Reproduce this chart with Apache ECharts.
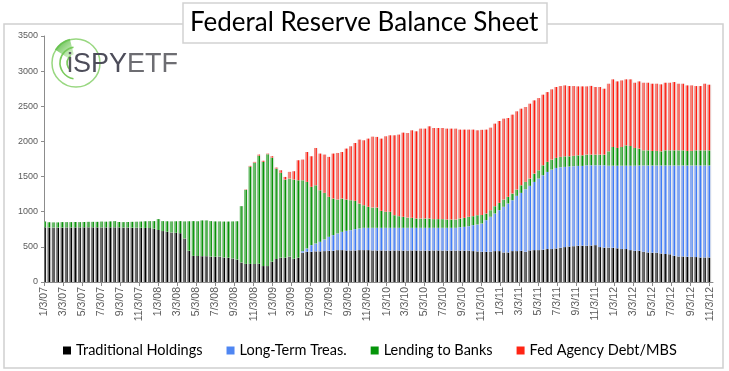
<!DOCTYPE html>
<html><head><meta charset="utf-8">
<script src="https://cdn.jsdelivr.net/npm/echarts@6/dist/echarts.min.js"></script>
<style>html,body{margin:0;padding:0;background:#fff;}#c{width:729px;height:371px;}</style>
</head><body><div id="c"></div>
<script>
// ---- data (billions of dollars), biweekly H.4.1 Wednesdays ----
const barDates = [
 '1/3/07','1/17/07','1/31/07','2/14/07','2/28/07','3/14/07','3/28/07','4/11/07','4/25/07','5/9/07','5/23/07','6/6/07','6/20/07','7/4/07','7/18/07','8/1/07','8/15/07','8/29/07','9/12/07','9/26/07','10/10/07','10/24/07','11/7/07','11/21/07','12/5/07','12/19/07',
 '1/2/08','1/16/08','1/30/08','2/13/08','2/27/08','3/12/08','3/26/08','4/9/08','4/23/08','5/7/08','5/21/08','6/4/08','6/18/08','7/2/08','7/16/08','7/30/08','8/13/08','8/27/08','9/10/08','9/24/08','10/8/08','10/22/08','11/5/08','11/19/08','12/3/08','12/17/08','12/31/08',
 '1/14/09','1/28/09','2/11/09','2/25/09','3/11/09','3/25/09','4/8/09','4/22/09','5/6/09','5/20/09','6/3/09','6/17/09','7/1/09','7/15/09','7/29/09','8/12/09','8/26/09','9/9/09','9/23/09','10/7/09','10/21/09','11/4/09','11/18/09','12/2/09','12/16/09','12/30/09',
 '1/13/10','1/27/10','2/10/10','2/24/10','3/10/10','3/24/10','4/7/10','4/21/10','5/5/10','5/19/10','6/2/10','6/16/10','6/30/10','7/14/10','7/28/10','8/11/10','8/25/10','9/8/10','9/22/10','10/6/10','10/20/10','11/3/10','11/17/10','12/1/10','12/15/10','12/29/10',
 '1/12/11','1/26/11','2/9/11','2/23/11','3/9/11','3/23/11','4/6/11','4/20/11','5/4/11','5/18/11','6/1/11','6/15/11','6/29/11','7/13/11','7/27/11','8/10/11','8/24/11','9/7/11','9/21/11','10/5/11','10/19/11','11/2/11','11/16/11','11/30/11','12/14/11','12/28/11',
 '1/11/12','1/25/12','2/8/12','2/22/12','3/7/12','3/21/12','4/4/12','4/18/12','5/2/12','5/16/12','5/30/12','6/13/12','6/27/12','7/11/12','7/25/12','8/8/12','8/22/12','9/5/12','9/19/12','10/3/12','10/17/12','10/31/12'
];
const tradHoldings = [
 778,776,776,775,776,777,777,778,778,779,779,779,778,778,778,779,779,778,776,776,774,773,772,770,768,760,
 740,725,715,705,700,695,620,445,372,370,368,368,362,360,362,350,346,336,320,
 278,258,258,256,260,227,
 227,289,327,346,346,360,331,346,
 416,430,430,437,437,440,445,445,454,454,450,450,450,454,454,454,450,
 450,450,448,448,450,450,448,448,450,450,448,448,448,450,450,448,448,448,448,448,448,448,440,436,430,
 430,430,440,440,421,421,440,440,445,430,450,454,454,460,469,469,478,487,497,506,510,516,518,516,520,
 525,497,490,490,487,480,469,469,454,445,
 445,430,421,418,416,407,398,395,374,364,364,360,357,355,350,350,350
];
const longTermTreas = [
 0,0,0,0,0,0,0,0,0,0, 0,0,0,0,0,0,0,0,0,0, 0,0,0,0,0,0,0,0,0,0,
 0,0,0,0,0,0,0,0,0,0, 0,0,0,0,0,0,0,0,0,0, 0,0,0,0,0,0,0,0,0,
 24,48,95,112,135,166,198,222,237,260,279,288,303,308,317,317,321,
 321,321,323,323,321,321,323,323,321,321,323,323,323,321,321,323,323,323,323,332,337,346,369,382,403,
 450,498,535,582,649,696,724,786,823,891,918,970,1018,1059,1097,1131,1145,1146,1141,1137,1138,1136,1134,1145,1141,
 1136,1164,1171,1165,1168,1175,1186,1186,1201,1210,
 1213,1228,1237,1240,1242,1251,1260,1263,1284,1294,1294,1298,1301,1303,1308,1308,1308
];
const lendingToBanks = [
 84,74,72,73,76,75,75,76,74,75,77,77,78,82,80,83,87,76,76,78,82,85,88,94,98,106,
 155,141,149,157,164,171,242,419,494,494,508,508,504,502,500,510,514,526,544,
 801,1053,1384,1441,1538,1483,
 1591,1481,1287,1207,1112,1112,1127,1102,
 1008,946,829,828,734,662,569,521,483,474,445,426,402,355,322,299,289,
 289,242,228,228,180,166,157,146,142,133,133,133,133,124,124,124,119,119,119,124,128,134,128,133,120,
 95,94,104,104,104,95,95,90,109,103,104,119,118,142,143,142,143,147,151,146,147,151,151,152,152,
 152,152,152,205,266,252,266,290,280,252,
 240,216,216,207,207,202,216,216,216,216,216,207,207,216,216,216,216
];
const agencyDebtMbs = [
 0,0,0,0,0,0,0,0,0,0, 0,0,0,0,0,0,0,0,0,0, 0,0,0,0,0,0,0,0,0,0,
 0,0,0,0,0,0,0,0,0,0, 0,0,0,0,0,
 0,5,10,12,15,15,
 9,19,14,37,37,95,118,284,
 294,426,435,530,521,545,568,639,662,662,724,767,823,909,923,970,1008,
 1004,1027,1074,1088,1136,1160,1197,1203,1245,1240,1278,1278,1311,1296,1296,1296,1292,1292,1292,1264,1255,1240,1231,1207,1212,
 1193,1174,1174,1165,1150,1121,1122,1112,1089,1066,1065,1041,1027,1004,993,999,1008,1008,1008,999,993,980,980,970,977,
 961,961,937,961,962,947,947,938,948,928,
 956,961,961,956,956,952,961,961,971,947,947,932,932,914,914,947,933
];
const tickLabels = [
 '1/3/07','3/3/07','5/3/07','7/3/07','9/3/07','11/3/07',
 '1/3/08','3/3/08','5/3/08','7/3/08','9/3/08','11/3/08',
 '1/3/09','3/3/09','5/3/09','7/3/09','9/3/09','11/3/09',
 '1/3/10','3/3/10','5/3/10','7/3/10','9/3/10','11/3/10',
 '1/3/11','3/3/11','5/3/11','7/3/11','9/3/11','11/3/11',
 '1/3/12','3/3/12','5/3/12','7/3/12','9/3/12','11/3/12'
];
const seriesNames = ['Traditional Holdings','Long-Term Treas.','Lending to Banks','Fed Agency Debt/MBS'];
const legendColors = ['#000000','#4f86f2','#05950a','#ff2414'];
const barColors = [['#6b6b6b','#000000'],['#8fadf0','#3f7cf6'],['#6cbd6c','#079207'],['#f4857d','#ff1c10']];
const axisStart = '1/2/07', axisEnd = '11/13/12';

// ---- daily date axis built from the data ----
const DAY = 86400000;
function toUTC(s){const p=s.split('/').map(Number);return Date.UTC(2000+p[2],p[0]-1,p[1]);}
function fmt(t){const d=new Date(t);return (d.getUTCMonth()+1)+'/'+d.getUTCDate()+'/'+String(d.getUTCFullYear()%100).padStart(2,'0');}
const t0 = toUTC(axisStart);
const nDays = Math.round((toUTC(axisEnd)-t0)/DAY)+1;
const categories = [];
for (let i=0;i<nDays;i++) categories.push(fmt(t0+i*DAY));
const barIdx = barDates.map(s=>Math.round((toUTC(s)-t0)/DAY));
const labelIdx = new Set(tickLabels.map(s=>Math.round((toUTC(s)-t0)/DAY)));
function spread(arr){const out=new Array(nDays).fill(null);barIdx.forEach((ix,j)=>{out[ix]=arr[j];});return out;}
const values = [tradHoldings,longTermTreas,lendingToBanks,agencyDebtMbs];

const chart = echarts.init(document.getElementById('c'), null, {renderer:'canvas'});
const series = seriesNames.map((name,si)=>({
  name, type:'bar', stack:'total', barWidth:2.8,
  data: spread(values[si]),
  itemStyle:{
    color:{type:'linear',x:0,y:0,x2:1,y2:0,colorStops:[
      {offset:0,color:barColors[si][0]},{offset:0.6,color:barColors[si][0]},
      {offset:0.66,color:barColors[si][1]},{offset:1,color:barColors[si][1]}]},
    shadowColor:'#ececec', shadowOffsetX:1.2, shadowBlur:0
  },
  emphasis:{disabled:true}
}));

chart.setOption({
  animation:false,
  backgroundColor:'#ffffff',
  title:{
    text:'Federal Reserve Balance Sheet', left:183, top:3,
    padding:[7,9,7,7], backgroundColor:'#ffffff', borderColor:'#d2d2d2', borderWidth:1.5,
    textStyle:{fontFamily:'Lato', fontSize:26, fontWeight:'normal', color:'#000'}
  },
  legend:{
    left:63, top:343, padding:0, itemWidth:8, itemHeight:8, itemGap:24, icon:'rect', selectedMode:false,
    textStyle:{fontFamily:'Lato', fontSize:14.5, color:'#000'},
    data: seriesNames.map((n,i)=>({name:n, itemStyle:{color:legendColors[i]}}))
  },
  grid:{left:44, right:16, top:36, bottom:89, containLabel:false},
  xAxis:{
    type:'category', data:categories, boundaryGap:true,
    axisLine:{show:true, lineStyle:{color:'#8c8c8c', width:1}},
    axisTick:{show:true, alignWithLabel:true, length:4, interval:(i)=>labelIdx.has(i), lineStyle:{color:'#8c8c8c'}},
    axisLabel:{interval:(i)=>labelIdx.has(i), rotate:90, margin:5, color:'#5a5a5a', fontSize:10.5, fontFamily:'Liberation Sans'},
    splitLine:{show:false}
  },
  yAxis:{
    type:'value', min:0, max:3500, interval:500,
    axisLine:{show:true, lineStyle:{color:'#8c8c8c', width:1}},
    axisTick:{show:true, length:3, lineStyle:{color:'#8c8c8c'}},
    axisLabel:{color:'#5a5a5a', fontSize:9, margin:6, fontFamily:'Liberation Sans', formatter:(v)=>String(v)},
    splitLine:{show:false}
  },
  graphic:[
    {type:'rect', z:-10, shape:{x:4, y:24, width:719, height:344}, style:{fill:'none', stroke:'#d0d0d0', lineWidth:1.5}},
    // logo
    {type:'circle', z:5, shape:{cx:76, cy:63, r:24}, style:{fill:'none', stroke:'#86d06a', lineWidth:1.5, opacity:0.85}},
    {type:'arc', z:5, shape:{cx:76, cy:63, r:16, startAngle:Math.PI*0.55, endAngle:Math.PI*1.45, clockwise:true}, style:{fill:'none', stroke:'#7acb5c', lineWidth:1.6}},
    {type:'arc', z:5, shape:{cx:76, cy:63, r:9, startAngle:Math.PI*0.7, endAngle:Math.PI*1.3, clockwise:true}, style:{fill:'none', stroke:'#7acb5c', lineWidth:1.6}},
    {type:'sector', z:5, shape:{cx:76, cy:63, r0:9, r:25, startAngle:-Math.PI*0.82, endAngle:-Math.PI*0.58, clockwise:true},
      style:{fill:{type:'linear',x:0,y:0,x2:1,y2:1,colorStops:[{offset:0,color:'#3fae2a'},{offset:1,color:'rgba(150,220,120,0.3)'}]}}},
    {type:'text', z:6, left:67, top:51, style:{text:'{a|i}{b|SPY}{c|ETF}', rich:{
      a:{fontFamily:'Liberation Sans', fontSize:27, fill:'#58585f'},
      b:{fontFamily:'Liberation Sans', fontSize:27, fill:'#4d4d5a'},
      c:{fontFamily:'Liberation Sans', fontSize:27, fill:'#6d6d72'}}}}
  ],
  series
});
</script></body></html>
